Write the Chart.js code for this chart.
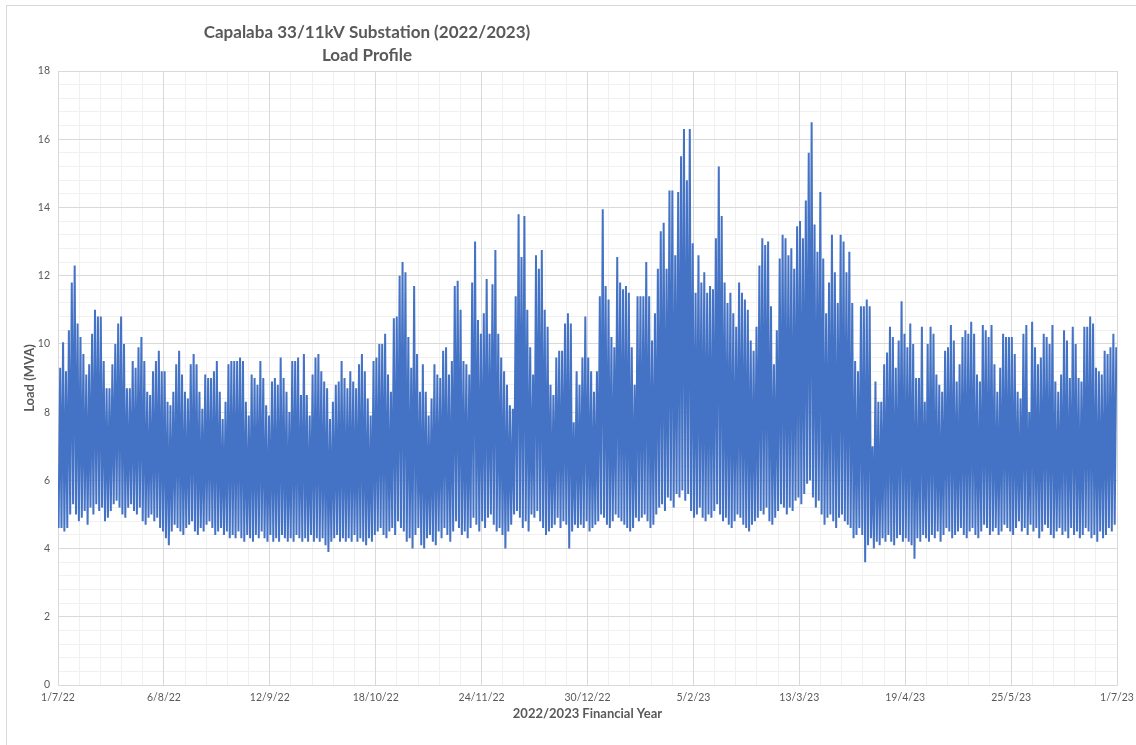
<!DOCTYPE html>
<html>
<head>
<meta charset="utf-8">
<script src="https://cdn.jsdelivr.net/npm/chart.js@4.4.1/dist/chart.umd.min.js"></script>
<style>
html,body{margin:0;padding:0;background:#fff;}
#wrap{width:1136px;height:745px;position:relative;}
</style>
</head>
<body>
<div id="wrap"><canvas id="c" width="1136" height="745"></canvas></div>
<script>
// ---------- text ----------
const chartTitle = ['Capalaba 33/11kV Substation (2022/2023)', 'Load Profile'];
const xAxisTitle = '2022/2023 Financial Year';
const yAxisTitle = 'Load (MVA)';
const xTickLabels = ['1/7/22','6/8/22','12/9/22','18/10/22','24/11/22','30/12/22','5/2/23','13/3/23','19/4/23','25/5/23','1/7/23'];

// ---------- daily peak load (MVA) ----------
const peakJulAug = [9.3,10.05,9.2,10.4,11.8,12.3,10.6,10.2,9.7,9.1,9.4,10.3,11.0,10.8,10.8,9.5,8.7,8.7,9.4,10.0,10.6,10.8,10.0,8.7,8.7,9.5,9.3,9.9,10.2,9.5,8.6,8.5,9.2,9.5,9.8,9.2,9.2,8.3,8.2,8.6,9.4,9.8,9.1,8.6,8.4,9.4,9.7,9.4,8.6,8.1,9.1,9.0,9.0,9.2,9.5,8.6,7.8,8.3,9.4,9.5];
const peakAugOct = [9.5,9.5,9.6,9.5,8.3,7.9,9.1,9.0,8.8,9.5,9.0,8.2,7.9,8.9,9.0,8.8,9.6,9.0,8.6,8.0,9.5,9.5,9.6,8.5,9.7,8.5,7.9,9.1,9.6,9.7,9.2,8.9,8.7,7.8,8.3,8.8,8.9,9.5,9.0,8.7,9.2,8.9,8.7,9.4,9.7,9.2,8.4,7.9,9.5,9.6,10.0,10.0,10.3,9.1,8.6,10.75,10.8,12.0,12.4,12.1,10.2];
const peakOctDec = [9.3,11.7,9.7,8.6,9.4,8.6,7.9,8.4,9.4,9.1,9.0,9.8,9.9,9.1,9.5,11.7,11.85,11.0,9.5,9.4,9.1,11.8,13.0,10.7,10.3,10.9,11.9,10.3,11.75,12.75,10.3,9.6,9.2,8.8,8.2,8.1,11.4,13.8,12.55,13.75,11.0,9.9,9.1,12.6,12.2,12.75,11.0,10.5,8.8,8.5,9.6,9.8,9.8,10.6,10.9,10.6,7.7,9.2,8.8];
const peakDecFeb = [9.6,10.8,9.6,9.2,8.6,9.2,11.4,13.95,11.7,11.3,10.2,9.9,12.55,11.8,11.6,11.7,11.5,9.9,8.8,11.4,11.4,11.4,12.4,11.4,10.1,10.9,12.2,13.3,13.55,12.2,14.5,14.5,12.6,14.45,15.5,16.3,14.8,16.3,12.95,11.5,12.6,11.8,12.1,11.5,11.7,11.6,13.1,15.2,13.75,11.8,11.2,11.5,10.9,10.5,11.8,11.5,11.3,11.0,10.1,9.8,10.5];
const peakMarApr = [12.3,13.1,12.9,13.0,11.1,9.4,10.4,12.5,13.2,13.1,12.6,12.8,12.2,13.45,13.6,13.1,14.2,15.6,16.5,13.5,12.7,14.45,12.5,10.9,11.8,13.2,12.1,11.2,13.2,13.0,12.1,12.7,11.2,9.5,9.2,11.1,11.1,11.3,11.1,7.0,8.9,8.3,8.3,9.4,9.75,10.5,10.2,9.3,10.1,11.25,10.3,9.9,10.6,10.0,9.0,9.0,10.5,8.3,10.0,10.5];
const peakAprJun = [10.3,9.1,8.8,8.6,9.8,9.9,10.55,10.1,8.9,9.4,10.2,10.4,10.3,10.65,10.3,9.1,8.9,10.55,10.4,10.2,10.55,9.4,8.6,9.3,10.3,10.2,10.2,10.2,9.7,8.6,8.4,10.3,10.55,8.0,10.65,9.9,9.4,9.6,10.3,10.2,10.0,10.55,8.9,8.6,9.1,10.4,10.1,9.0,10.5,10.0,9.0,8.9,10.5,10.5,10.8,10.6,9.3,9.2,9.1,9.8,9.7,9.9,10.3,9.9];

// ---------- daily minimum load (MVA) ----------
const minJulAug = [4.6,4.6,4.5,4.6,5.0,5.3,5.0,4.8,4.9,5.1,4.7,5.2,5.0,5.3,5.1,5.2,4.8,4.9,5.1,5.3,5.4,5.2,5.0,4.9,5.2,5.3,5.1,5.0,5.2,4.8,4.7,4.9,5.0,4.8,4.9,4.6,4.5,4.3,4.1,4.5,4.7,4.6,4.5,4.4,4.6,4.7,4.8,4.5,4.4,4.6,4.5,4.7,4.8,4.6,4.4,4.5,4.6,4.4,4.5,4.3];
const minAugOct = [4.4,4.3,4.5,4.3,4.2,4.4,4.3,4.2,4.4,4.3,4.5,4.3,4.2,4.4,4.2,4.3,4.2,4.4,4.3,4.2,4.3,4.2,4.4,4.3,4.2,4.3,4.2,4.4,4.2,4.3,4.2,4.3,4.1,3.9,4.2,4.3,4.4,4.2,4.3,4.2,4.3,4.2,4.4,4.2,4.3,4.2,4.1,4.3,4.2,4.4,4.5,4.6,4.4,4.3,4.5,4.6,4.4,4.8,4.6,4.5,4.2];
const minOctDec = [4.3,4.0,4.4,4.6,4.1,4.0,4.3,4.4,4.2,4.1,4.5,4.3,4.6,4.4,4.2,4.5,4.8,4.6,4.4,4.5,4.3,4.6,4.9,4.7,4.5,4.8,4.6,4.9,5.0,4.7,4.5,4.6,4.4,4.0,4.5,4.7,5.0,5.1,4.9,4.6,4.8,4.5,5.0,4.9,5.1,4.8,4.6,4.4,4.5,4.6,4.7,4.9,4.6,4.8,4.7,4.0,4.5,4.7,4.6];
const minDecFeb = [4.7,4.6,4.8,4.5,4.6,4.7,4.8,5.0,4.9,4.7,4.6,4.8,5.0,4.9,4.8,4.7,4.6,4.5,4.6,4.9,4.8,4.9,5.0,4.8,4.6,4.7,5.0,5.2,5.3,5.1,5.5,5.4,5.2,5.6,5.5,5.7,5.4,5.6,5.1,4.9,5.0,5.2,4.9,4.8,5.0,4.9,5.1,5.3,5.0,4.8,4.9,4.7,4.6,4.8,5.0,4.9,4.7,4.6,4.5,4.7,4.8];
const minMarApr = [4.9,5.1,5.0,5.2,4.8,4.7,4.9,5.1,5.3,5.2,5.0,5.2,5.1,5.4,5.5,5.3,5.6,5.9,6.0,5.5,5.2,5.4,5.0,4.7,4.9,5.0,4.8,4.6,4.9,5.0,4.8,4.7,4.6,4.3,4.4,4.6,4.4,3.6,4.1,4.3,4.0,4.2,4.1,4.3,4.2,4.4,4.2,4.1,4.3,4.4,4.2,4.3,4.2,4.1,3.7,4.3,4.2,4.4,4.3,4.2];
const minAprJun = [4.4,4.3,4.5,4.2,4.4,4.6,4.5,4.3,4.4,4.5,4.6,4.4,4.3,4.5,4.6,4.4,4.3,4.5,4.7,4.6,4.4,4.5,4.6,4.4,4.5,4.7,4.6,4.5,4.4,4.6,4.8,4.5,4.6,4.4,4.7,4.5,4.6,4.3,4.5,4.7,4.6,4.4,4.3,4.5,4.6,4.4,4.5,4.3,4.6,4.4,4.5,4.3,4.4,4.6,4.5,4.3,4.4,4.2,4.5,4.3,4.4,4.6,4.5,4.7];

// ---------- assemble ----------
const dailyPeak = [].concat(peakJulAug, peakAugOct, peakOctDec, peakDecFeb, peakMarApr, peakAprJun);
const dailyMin  = [].concat(minJulAug, minAugOct, minOctDec, minDecFeb, minMarApr, minAprJun);
const MIN_TIME = 0.2, PEAK_TIME = 0.75; // fraction of the day (early morning trough, evening peak)
const loadPoints = [];
for (let d = 0; d < dailyPeak.length; d++) {
  loadPoints.push({x: d + MIN_TIME, y: dailyMin[d]});
  loadPoints.push({x: d + PEAK_TIME, y: dailyPeak[d]});
}
const daysInYear = 365;

const TEXT = '#595959';
const FONT = 'Lato, "Open Sans", "DejaVu Sans", sans-serif';

const decor = {
  id: 'decor',
  beforeDraw(chart) {
    const ctx = chart.ctx;
    ctx.save();
    ctx.fillStyle = '#ffffff';
    ctx.fillRect(0, 0, chart.width, chart.height);
    ctx.strokeStyle = '#d9d9d9';
    ctx.lineWidth = 1;
    ctx.strokeRect(6.5, 5.5, chart.width + 40, chart.height + 40);
    ctx.restore();
  },
  afterDraw(chart) {
    const ctx = chart.ctx;
    ctx.save();
    ctx.fillStyle = TEXT;
    ctx.textAlign = 'center';
    ctx.textBaseline = 'middle';
    ctx.font = 'bold 17px ' + FONT;
    ctx.fillText(chartTitle[0], 367, 33);
    ctx.fillText(chartTitle[1], 367, 56);
    ctx.restore();
  }
};

new Chart(document.getElementById('c'), {
  type: 'line',
  data: {
    datasets: [{
      label: 'Load (MVA)',
      data: loadPoints,
      borderColor: '#4472C4',
      borderWidth: 2,
      pointRadius: 0,
      tension: 0,
      fill: false
    }]
  },
  options: {
    responsive: false,
    animation: false,
    devicePixelRatio: 1,
    layout: {padding: {top: 71, right: 19, left: 18, bottom: 0}},
    plugins: {legend: {display: false}, tooltip: {enabled: false}, title: {display: false}},
    scales: {
      xMinor: {
        type: 'linear', position: 'bottom', min: 0, max: daysInYear,
        ticks: {display: false, stepSize: daysInYear / 50},
        grid: {color: '#f0f0f0', drawTicks: false, z: -2},
        border: {display: false},
        afterFit(s) { s.height = 0; s.paddingLeft = 0; s.paddingRight = 0; }
      },
      yMinor: {
        type: 'linear', position: 'left', min: 0, max: 18,
        ticks: {display: false, stepSize: 0.4},
        grid: {color: '#f0f0f0', drawTicks: false, z: -2},
        border: {display: false},
        afterFit(s) { s.width = 0; s.paddingTop = 0; s.paddingBottom = 0; }
      },
      x: {
        type: 'linear', position: 'bottom', min: 0, max: daysInYear,
        ticks: {
          stepSize: daysInYear / 10, autoSkip: false, maxRotation: 0, padding: 6,
          color: TEXT, font: {family: FONT, size: 10.5},
          callback: (v, i) => xTickLabels[i]
        },
        grid: {color: '#d9d9d9', drawTicks: false, z: -1},
        border: {color: '#d9d9d9'},
        title: {display: true, text: xAxisTitle, color: TEXT, font: {family: FONT, size: 13, weight: 'bold'}, padding: {top: 4, bottom: 23}},
        afterFit(s) { s.height = 60; s.paddingLeft = 0; s.paddingRight = 0; }
      },
      y: {
        type: 'linear', position: 'left', min: 0, max: 18,
        ticks: {stepSize: 2, padding: 8, color: TEXT, font: {family: FONT, size: 10.5}},
        grid: {color: '#d9d9d9', drawTicks: false, z: -1},
        border: {color: '#d9d9d9'},
        title: {display: true, text: yAxisTitle, color: TEXT, font: {family: FONT, size: 13, weight: 'bold'}, padding: {top: 4, bottom: 4}},
        afterFit(s) { s.width = 40; s.paddingTop = 0; s.paddingBottom = 0; }
      }
    }
  },
  plugins: [decor]
});
</script>
</body>
</html>
